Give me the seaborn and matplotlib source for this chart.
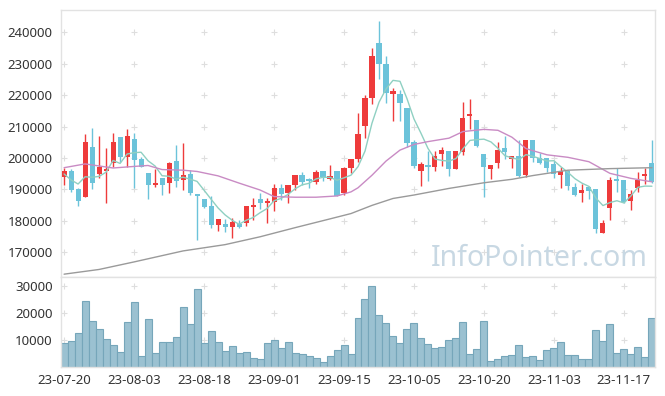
import numpy as np
import pandas as pd
import matplotlib
matplotlib.use("Agg")
import matplotlib.pyplot as plt
import seaborn as sns

# ---------------- data ----------------
opens = [194000, 195900, 190100, 187700, 203500, 194900, 196000, 198500, 206700, 200400,
         206000, 199700, 195100, 191500, 193500, 192100, 199000, 193000, 194900, 188400,
         186900, 184800, 178700, 179100, 177900, 179000, 179300, 184500, 186900, 185800,
         185900, 190400, 188800, 191300, 194600, 193100, 192500, 195900, 193300, 195900,
         189000, 196700, 199600, 210300, 219000, 236600, 230000, 220400, 220200, 216000,
         205200, 196000, 197800, 197000, 201200, 202200, 196500, 202000, 213400, 212000,
         201300, 196500, 198500, 203100, 199700, 200600, 194600, 205700, 199900, 200100,
         198000, 194600, 196000, 190900, 188800, 190900, 190100, 176000, 184000, 193300,
         193000, 186400, 190500, 194400, 198300]
highs = [196700, 196400, 190300, 207600, 209500, 207000, 203100, 208100, 206700, 209100,
         208100, 200400, 195100, 196400, 193600, 198800, 204100, 204700, 196200, 188400,
         186900, 188000, 180600, 180700, 180900, 180300, 184800, 187200, 189000, 187200,
         191700, 191700, 191400, 194500, 195600, 193500, 196200, 195900, 197600, 195900,
         197200, 199700, 214300, 220100, 234900, 243600, 232300, 222300, 221600, 216000,
         205700, 198800, 202300, 202300, 203600, 202300, 202300, 217900, 218900, 212000,
         201300, 197800, 205200, 207000, 200700, 205700, 205800, 205800, 201500, 200100,
         199000, 197000, 196200, 191900, 191700, 191200, 190200, 180300, 193900, 196700,
         193000, 189800, 195600, 196900, 205700]
lows = [191400, 189100, 184800, 187500, 190000, 193500, 185800, 197200, 198800, 197200,
        190400, 197000, 186900, 190900, 188200, 189000, 190700, 189800, 188200, 174000,
        184000, 177800, 176600, 176300, 174500, 177700, 178200, 180300, 183700, 179300,
        183100, 186600, 185600, 189800, 191400, 190400, 191600, 192800, 192900, 187900,
        188200, 195100, 198800, 206500, 217100, 225000, 217600, 211900, 211900, 203400,
        196700, 191200, 192800, 196000, 197500, 194300, 196400, 201000, 209100, 203400,
        187500, 193300, 196700, 199600, 196700, 194000, 193900, 198800, 198100, 195500,
        193500, 190400, 189800, 188000, 186100, 186900, 176000, 176000, 180300, 189300,
        185800, 183300, 189300, 191700, 191900]
closes = [195900, 189800, 186400, 205100, 192100, 197200, 196500, 205100, 200400, 207000,
          199400, 197200, 191500, 192100, 191500, 198500, 192800, 194500, 189000, 187900,
          184500, 178500, 180600, 177900, 179500, 177900, 184800, 185000, 185600, 186100,
          190400, 188500, 191300, 194500, 192500, 192800, 195500, 194000, 194300, 187900,
          196700, 199700, 207500, 219000, 232500, 229900, 220800, 221300, 217500, 204900,
          197500, 198100, 197200, 200600, 202600, 196500, 202200, 212700, 213900, 203900,
          197200, 197800, 202600, 202000, 200600, 194400, 205700, 199900, 198300, 196900,
          194800, 196000, 191100, 188200, 189800, 189600, 177400, 179200, 193000, 192700,
          186100, 188500, 193000, 194900, 192500]
volumes = [8900, 9600, 12500, 24500, 16900, 14000, 10400, 8200, 5700, 16500,
           24100, 3900, 17600, 5300, 9300, 9300, 11100, 22300, 15800, 28800,
           8900, 13300, 9300, 6000, 7800, 5300, 5700, 3500, 2800, 8900,
           10000, 7100, 9300, 5300, 4900, 3900, 3500, 1700, 4200, 6400,
           8100, 4800, 18200, 25100, 29900, 19400, 16100, 11300, 8900, 14000,
           16100, 10600, 8400, 7000, 7400, 10000, 10700, 16500, 4800, 6700,
           16900, 2400, 3100, 4100, 4600, 8100, 3700, 4100, 2700, 6400,
           7100, 9300, 4500, 4500, 3100, 2800, 13600, 9600, 15800, 5200,
           6700, 4800, 7400, 3700, 18000]

# 5-day average line: first four points (earlier closes not shown)
ma5_head = [194900, 193000, 191700, 194000]
# 20-day average line, read at sample days
ma20_days = [0, 3, 7, 10, 12, 14, 17, 19, 22, 25, 28, 30, 33, 36, 39, 41, 42, 44, 46, 48,
             50, 52, 55, 57, 60, 62, 64, 66, 67, 69, 72, 75, 78, 81, 84]
ma20_vals = [196900, 198100, 196800, 197300, 197600, 196300, 196100, 195700, 194300, 192000,
             189800, 187700, 187500, 187500, 187900, 189200, 190500, 194500, 199000, 202500,
             204300, 205200, 206300, 208400, 209100, 208800, 206600, 203000, 202300, 201000,
             200200, 198800, 195100, 193500, 192400]
# long average line, read at sample days
mal_days = [0, 5, 10, 17, 23, 28, 33, 38, 41, 44, 47, 50, 55, 60, 64, 67, 72, 78, 84]
mal_vals = [163000, 164500, 166900, 170400, 172400, 174900, 177800, 180600, 182300, 184900,
            187100, 188200, 190300, 192100, 193200, 194400, 196100, 196600, 196900]

tick_days = [0, 10, 20, 30, 40, 50, 60, 70, 80]
tick_labels = ["23-07-20", "23-08-03", "23-08-18", "23-09-01", "23-09-15",
               "23-10-05", "23-10-20", "23-11-03", "23-11-17"]
price_ticks = [170000, 180000, 190000, 200000, 210000, 220000, 230000, 240000]
vol_ticks = [10000, 20000, 30000]

# ---------------- styling ----------------
RED = "#ee3b3b"
BLUE = "#6cc3da"
TEAL = "#8fd0c2"
PINK = "#c98bc4"
GREY = "#9a9a9a"
VOLF = "#9bc1d1"
VOLE = "#76a6ba"
GRIDC = "#dedede"
SPINE = "#e2e2e2"
TXT = "#333333"

sns.set_theme(style="white")
plt.rcParams["font.family"] = ["Noto Sans", "DejaVu Sans"]

W, H = 665, 396
fig = plt.figure(figsize=(W / 100, H / 100), dpi=100)
L, R = 61, 655
axp = fig.add_axes([L / W, 1 - 277 / H, (R - L) / W, (277 - 10) / H])
axv = fig.add_axes([L / W, 1 - 367 / H, (R - L) / W, (367 - 277) / H])

df = pd.DataFrame({"day": np.arange(len(closes)), "open": opens, "high": highs,
                   "low": lows, "close": closes, "volume": volumes})
up = df["close"] >= df["open"]
cols = np.where(up, RED, BLUE)

XL = (-0.44, len(closes) - 1 + 0.44)

# grid "+" marks
for ax, yt in ((axp, price_ticks), (axv, vol_ticks)):
    gx, gy = np.meshgrid(tick_days, yt)
    ax.scatter(gx.ravel(), gy.ravel(), marker="+", s=16, color=GRIDC, linewidths=0.8, zorder=0)

# candles
axp.vlines(df["day"], df["low"], df["high"], colors=cols, linewidth=1.0, zorder=2)
body_lo = np.minimum(df["open"], df["close"])
body_h = np.maximum(np.abs(df["close"] - df["open"]), 500)
axp.bar(df["day"], body_h, bottom=body_lo, width=0.72, color=cols, linewidth=0, zorder=3)

# moving-average lines
ma5 = df["close"].rolling(5).mean()
ma5.iloc[:4] = ma5_head
sns.lineplot(x=df["day"], y=ma5, ax=axp, color=TEAL, linewidth=1.0, zorder=4)
sns.lineplot(x=ma20_days, y=ma20_vals, ax=axp, color=PINK, linewidth=1.0, zorder=4)
sns.lineplot(x=mal_days, y=mal_vals, ax=axp, color=GREY, linewidth=1.0, zorder=4)

axp.set_xlim(*XL)
axp.set_ylim(162100, 247100)
axp.set_yticks(price_ticks)
axp.set_yticklabels([str(v) for v in price_ticks])
axp.set_xticks(tick_days)
axp.set_xticklabels([])
axp.set_xlabel("")
axp.set_ylabel("")

# volume bars
sns.barplot(data=df, x="day", y="volume", ax=axv, color=VOLF, saturation=1,
            width=1.0, edgecolor=VOLE, linewidth=0.8, zorder=2)
axv.set_xlim(*XL)
axv.set_ylim(0, 33300)
axv.set_yticks(vol_ticks)
axv.set_yticklabels([str(v) for v in vol_ticks])
axv.set_xticks(tick_days)
axv.set_xticklabels(tick_labels)
axv.set_xlabel("")
axv.set_ylabel("")

for ax in (axp, axv):
    for s in ax.spines.values():
        s.set_color(SPINE)
        s.set_linewidth(1.0)
    ax.tick_params(axis="both", length=0, labelsize=9.5, labelcolor=TXT, pad=6)
    ax.set_facecolor("white")
axv.tick_params(axis="x", pad=5)

fig.text(648 / W, 1 - 266 / H, "InfoPointer.com", ha="right", va="baseline",
         fontsize=20.5, color="#c8d8e3", zorder=1)

fig.savefig("out.png", dpi=100, facecolor="white")
